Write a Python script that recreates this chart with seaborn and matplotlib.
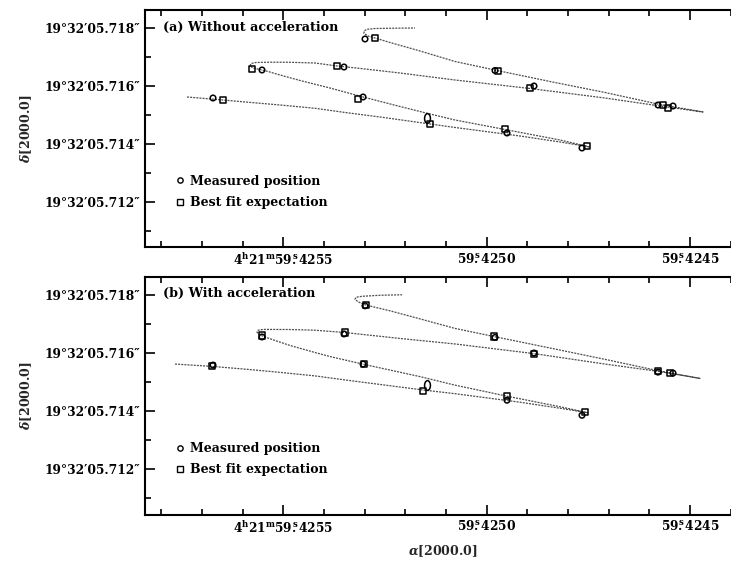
import numpy as np
import pandas as pd
import matplotlib
matplotlib.use("Agg")
import matplotlib.pyplot as plt
import matplotlib.transforms as mtrans
from matplotlib.path import Path
from matplotlib.ticker import FixedLocator, FixedFormatter
import seaborn as sns

# ---------------- data (RA seconds of 4h21m, Dec arcsec of 19d32') ----------------
# measured positions (same in both panels)
meas_ra = [59.4256729, 59.4255524, 59.4253508, 59.4253040, 59.4252991, 59.4249795,
           59.4248836, 59.4251467, 59.4249500, 59.4247656, 59.4245787, 59.4245418]
meas_dec = [5.715588, 5.716557, 5.716661, 5.715623, 5.717630, 5.716540,
            5.716003, 5.714905, 5.714377, 5.713858, 5.715346, 5.715311]

# best fit expectation, panel (a) without acceleration
fit_a_ra = [59.4256483, 59.4255770, 59.4253680, 59.4253163, 59.4252745, 59.4249721,
            59.4248934, 59.4251393, 59.4249549, 59.4247533, 59.4245664, 59.4245541]
fit_a_dec = [5.715519, 5.716592, 5.716696, 5.715554, 5.717664, 5.716523,
             5.715934, 5.714689, 5.714516, 5.713927, 5.715346, 5.715242]

# best fit expectation, panel (b) with acceleration
fit_b_ra = [59.4256753, 59.4255524, 59.4253483, 59.4253016, 59.4252967, 59.4249819,
            59.4248836, 59.4251565, 59.4249500, 59.4247582, 59.4245787, 59.4245492]
fit_b_dec = [5.715543, 5.716606, 5.716709, 5.715612, 5.717654, 5.716571,
             5.715983, 5.714689, 5.714533, 5.713976, 5.715381, 5.715311]

# model track, panel (a)
track_a_ra = [59.4257368, 59.4256483, 59.4255819, 59.4255081, 59.4254221, 59.4253483,
              59.4252622, 59.4251393, 59.4250778, 59.4249180, 59.4248196, 59.4247459,
              59.4248196, 59.4249549, 59.4250778, 59.4251393, 59.4252131, 59.4253040,
              59.4253852, 59.4254589, 59.4255081, 59.4255376, 59.4255573, 59.4255745,
              59.4255819, 59.4255794, 59.4255671, 59.4255327, 59.4254835,
              59.4254221, 59.4253680, 59.4253114, 59.4252131, 59.4250778, 59.4248934,
              59.4247090, 59.4245738, 59.4244680,
              59.4245738, 59.4247090, 59.4248442, 59.4249746, 59.4250778, 59.4251639,
              59.4252376, 59.4252745, 59.4252917, 59.4253016, 59.4253016, 59.4252942,
              59.4252745, 59.4252254, 59.4251762]
track_a_dec = [5.715623, 5.715519, 5.715436, 5.715346, 5.715232, 5.715087,
               5.714931, 5.714689, 5.714568, 5.714273, 5.714066, 5.713893,
               5.714135, 5.714498, 5.714827, 5.715035, 5.715294, 5.715623,
               5.715934, 5.716194, 5.716384, 5.716505, 5.716574, 5.716626,
               5.716696, 5.716782, 5.716817, 5.716827, 5.716824,
               5.716799, 5.716696, 5.716612, 5.716453, 5.716211, 5.715917,
               5.715588, 5.715311, 5.715104,
               5.715363, 5.715779, 5.716159, 5.716540, 5.716851, 5.717215,
               5.717509, 5.717664, 5.717734, 5.717820, 5.717907, 5.717965,
               5.717993, 5.718003, 5.718010]

# model track, panel (b)
track_b_ra = [59.4257663, 59.4256753, 59.4255819, 59.4255081, 59.4254221, 59.4253483,
              59.4252622, 59.4251565, 59.4250778, 59.4249180, 59.4248196, 59.4247508,
              59.4248196, 59.4249500, 59.4250778, 59.4251639, 59.4253016, 59.4253852,
              59.4254221, 59.4254835, 59.4255204, 59.4255450, 59.4255573, 59.4255647,
              59.4255622, 59.4255499, 59.4254835,
              59.4254221, 59.4253483, 59.4252131, 59.4250778, 59.4248836, 59.4247090,
              59.4245738, 59.4244754,
              59.4245738, 59.4247090, 59.4248442, 59.4249819, 59.4250778, 59.4251639,
              59.4252376, 59.4252967, 59.4253163, 59.4253237, 59.4253212, 59.4253065,
              59.4252622, 59.4252081]
track_b_dec = [5.715623, 5.715543, 5.715433, 5.715336, 5.715215, 5.715076,
               5.714920, 5.714730, 5.714602, 5.714308, 5.714100, 5.713945,
               5.714152, 5.714516, 5.714896, 5.715190, 5.715612, 5.715882,
               5.716021, 5.716263, 5.716436, 5.716557, 5.716626, 5.716713,
               5.716789, 5.716817, 5.716813,
               5.716789, 5.716709, 5.716505, 5.716315, 5.715983, 5.715623,
               5.715363, 5.715128,
               5.715381, 5.715785, 5.716176, 5.716571, 5.716851, 5.717180,
               5.717457, 5.717654, 5.717768, 5.717855, 5.717924, 5.717958,
               5.717993, 5.718010]

ra_major = [59.4255, 59.4250, 59.4245]
ra_major_labels = [r"$4^{\rm h}21^{\rm m}59\overset{\rm s}{.}4255$",
                   r"$59\overset{\rm s}{.}4250$",
                   r"$59\overset{\rm s}{.}4245$"]
ra_minor = [59.4258, 59.4257, 59.4256, 59.4254, 59.4253, 59.4252, 59.4251,
            59.4249, 59.4248, 59.4247, 59.4246, 59.4244]
dec_major = [5.718, 5.716, 5.714, 5.712]
dec_major_labels = ["19°32′05.718″", "19°32′05.716″", "19°32′05.714″", "19°32′05.712″"]
dec_minor = [5.711, 5.713, 5.715, 5.717]

panel_titles = ["(a) Without acceleration", "(b) With acceleration"]
legend_labels = ["Measured position", "Best fit expectation"]

# ---------------- style ----------------
sns.set_theme(style="ticks")
plt.rcParams.update({
    "font.family": ["DejaVu Serif"],
    "font.weight": "bold",
    "mathtext.fontset": "custom",
    "mathtext.rm": "DejaVu Serif:bold",
    "mathtext.it": "DejaVu Serif:italic:bold",
    "mathtext.bf": "DejaVu Serif:bold",
    "axes.linewidth": 1.5,
    "axes.edgecolor": "black",
    "text.color": "black",
    "xtick.color": "black",
    "ytick.color": "black",
})

fig = plt.figure(figsize=(7.31, 5.61), dpi=100)
W, H = 731.0, 561.0
left_px, right_px = 145.0, 733.0
ax_a = fig.add_axes([left_px / W, 1 - 247.3 / H, (right_px - left_px) / W, (247.3 - 10) / H])
ax_b = fig.add_axes([left_px / W, 1 - 515.0 / H, (right_px - left_px) / W, (515.0 - 276.7) / H])

ell_marker = Path.unit_circle().transformed(mtrans.Affine2D().scale(0.6, 1.0))

panels = [
    (ax_a, track_a_ra, track_a_dec, fit_a_ra, fit_a_dec, panel_titles[0]),
    (ax_b, track_b_ra, track_b_dec, fit_b_ra, fit_b_dec, panel_titles[1]),
]

for ax, tra, tde, fra, fde, title in panels:
    track = pd.DataFrame({"ra": tra, "dec": tde})
    sns.lineplot(data=track, x="ra", y="dec", sort=False, estimator=None, ax=ax,
                 color="0.3", linewidth=0.9, linestyle=(0, (1.6, 0.9)))
    mra = np.array(meas_ra)
    mde = np.array(meas_dec)
    mask = np.ones(len(mra), bool)
    mask[7] = False
    sns.scatterplot(x=mra[mask], y=mde[mask], ax=ax, marker="o", s=16,
                    facecolors="none", edgecolor="black", linewidth=1.1, zorder=3)
    ax.plot(mra[~mask], mde[~mask], linestyle="none", marker=ell_marker, ms=7,
            mfc="none", mec="black", mew=1.1, zorder=3)
    sns.scatterplot(x=fra, y=fde, ax=ax, marker="s", s=20,
                    facecolors="none", edgecolor="black", linewidth=1.1, zorder=3)

    ax.set_xlim(59.4258401, 59.4243943)
    ax.set_ylim(5.710422, 5.718633)
    ax.xaxis.set_major_locator(FixedLocator(ra_major))
    ax.xaxis.set_major_formatter(FixedFormatter(ra_major_labels))
    ax.xaxis.set_minor_locator(FixedLocator(ra_minor))
    ax.yaxis.set_major_locator(FixedLocator(dec_major))
    ax.yaxis.set_major_formatter(FixedFormatter(dec_major_labels))
    ax.yaxis.set_minor_locator(FixedLocator(dec_minor))
    ax.tick_params(which="both", direction="in", top=True, right=False, width=1.2,
                   labelsize=8.8)
    ax.tick_params(which="major", length=7)
    ax.tick_params(which="minor", length=4.5)
    ax.tick_params(axis="y", pad=3.5)
    ax.tick_params(axis="x", pad=3.5)
    for name, sp in ax.spines.items():
        sp.set_visible(name != "right")
        sp.set_linewidth(1.5)

    ax.text(0.031, 0.928, title, transform=ax.transAxes, ha="left", va="center",
            fontsize=9.2, fontweight="bold")

    h_meas = plt.Line2D([], [], linestyle="none", marker="o", ms=3.8, mfc="none",
                        mec="black", mew=1.0)
    h_fit = plt.Line2D([], [], linestyle="none", marker="s", ms=3.8, mfc="none",
                       mec="black", mew=1.0)
    ax.legend([h_meas, h_fit], legend_labels, loc="upper left",
              bbox_to_anchor=(0.051, 0.306), frameon=False, borderpad=0,
              borderaxespad=0, handlelength=0.8, handletextpad=0.4,
              labelspacing=0.67, prop={"size": 9, "weight": "bold"})

    ax.set_ylabel(r"$\delta$[2000.0]", fontsize=9, fontweight="bold")
    ax.yaxis.set_label_coords(-0.189, 0.5)
    ax.set_xlabel("")

ax_b.set_xlabel(r"$\alpha$[2000.0]", fontsize=9, fontweight="bold")
ax_b.xaxis.set_label_coords(0.507, -0.118)

fig.savefig("out.png", dpi=100, facecolor="white")
